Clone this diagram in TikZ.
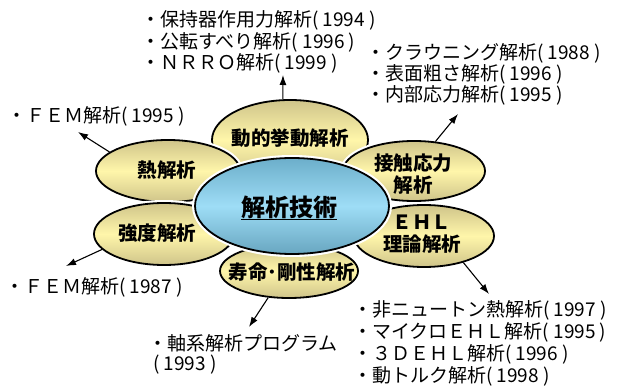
\documentclass[tikz,border=0pt]{standalone}
\usepackage{fontspec}
\setmainfont{Noto Sans CJK JP}
\usetikzlibrary{shapes.geometric,arrows.meta}
\definecolor{tanD}{HTML}{CFC48A}
\definecolor{yelL}{HTML}{FFF6AA}
\definecolor{blueD}{HTML}{6CAECA}
\definecolor{blueB}{HTML}{68A6C0}
\definecolor{blueL}{HTML}{9EDDF6}
\tikzset{
  petal/.style={ellipse, draw=black, line width=1.8pt, top color=tanD, bottom color=tanD, middle color=yelL, inner sep=0pt, preaction={draw=white, line width=6pt}},
  hub/.style={ellipse, draw=black, line width=1.8pt, top color=blueD, bottom color=blueB, middle color=blueL, inner sep=0pt, preaction={draw=white, line width=6pt}},
  plabel/.style={font=\fontsize{19.5}{22}\selectfont\bfseries, align=center, inner sep=0pt},
  hublabel/.style={font=\fontsize{24}{28}\selectfont\bfseries, inner sep=0pt},
  note/.style={font=\fontsize{19}{22}\selectfont, anchor=west, inner sep=0pt},
  arr/.style={-{Latex[length=10pt,width=7pt]}, line width=1.1pt},
}
\begin{document}
\begin{tikzpicture}[x=1pt,y=-1pt]
\path[use as bounding box, fill=white] (0,0) rectangle (618,387);
% petals
\node[petal, minimum width=156pt, minimum height=80pt] (dyn) at (290,140) {};
\node[petal, minimum width=144pt, minimum height=62pt] (heat) at (168,171) {};
\node[petal, minimum width=142pt, minimum height=60pt] (cont) at (414,171) {};
\node[petal, minimum width=140pt, minimum height=62pt] (str) at (164,234) {};
\node[petal, minimum width=140pt, minimum height=62pt] (ehl) at (424,236) {};
\node[petal, minimum width=138pt, minimum height=54pt] (life) at (289,271) {};
\node[hub, minimum width=194pt, minimum height=96pt] (hub) at (292,206) {};
% labels
\node[plabel] (dynT) at (290,138) {動的挙動解析};
\node[plabel] (heatT) at (167,170) {熱解析};
\node[plabel] (contT) at (413,174) {接触応力\\解析};
\node[plabel] (strT) at (157,233) {強度解析};
\node[plabel] (ehlT) at (422,234) {ＥＨＬ\\理論解析};
\node[plabel] (lifeT) at (292,272) {寿命･剛性解析};
\node[hublabel] (hubT) at (289,207) {解析技術};
\draw[line width=1.5pt] ([yshift=-3.5pt]hubT.base west) -- ([yshift=-3.5pt]hubT.base east);
% notes
\node[note] (a1) at (141,20) {・保持器作用力解析( 1994 )};
\node[note] (a2) at (141,42) {・公転すべり解析( 1996 )};
\node[note] (a3) at (141,63) {・ＮＲＲＯ解析( 1999 )};
\node[note] (b1) at (366,53) {・クラウニング解析( 1988 )};
\node[note] (b2) at (366,74) {・表面粗さ解析( 1996 )};
\node[note] (b3) at (366,95) {・内部応力解析( 1995 )};
\node[note] (c1) at (7,116) {・ＦＥＭ解析( 1995 )};
\node[note] (d1) at (5,287) {・ＦＥＭ解析( 1987 )};
\node[note] (e1) at (148,343) {・軸系解析プログラム};
\node[note] (e2) at (153,365) {( 1993 )};
\node[note] (f1) at (353,310) {・非ニュートン熱解析( 1997 )};
\node[note] (f2) at (353,332) {・マイクロＥＨＬ解析( 1995 )};
\node[note] (f3) at (353,354) {・３ＤＥＨＬ解析( 1996 )};
\node[note] (f4) at (353,376) {・動トルク解析( 1998 )};
% arrows
\coordinate (tA) at (283,75);
\coordinate (tB) at (458,114);
\coordinate (tC) at (78,132);
\coordinate (tD) at (66,266);
\coordinate (tE) at (249,327);
\coordinate (tF) at (489,294);
\draw[arr] (dyn.100) -- (tA);
\draw[arr] (cont.54) -- (tB);
\draw[arr] (heat.162) -- (tC);
\draw[arr] (str.194) -- (tD);
\draw[arr] (life.232) -- (tE);
\draw[arr] (ehl.326) -- (tF);
\end{tikzpicture}
\end{document}
